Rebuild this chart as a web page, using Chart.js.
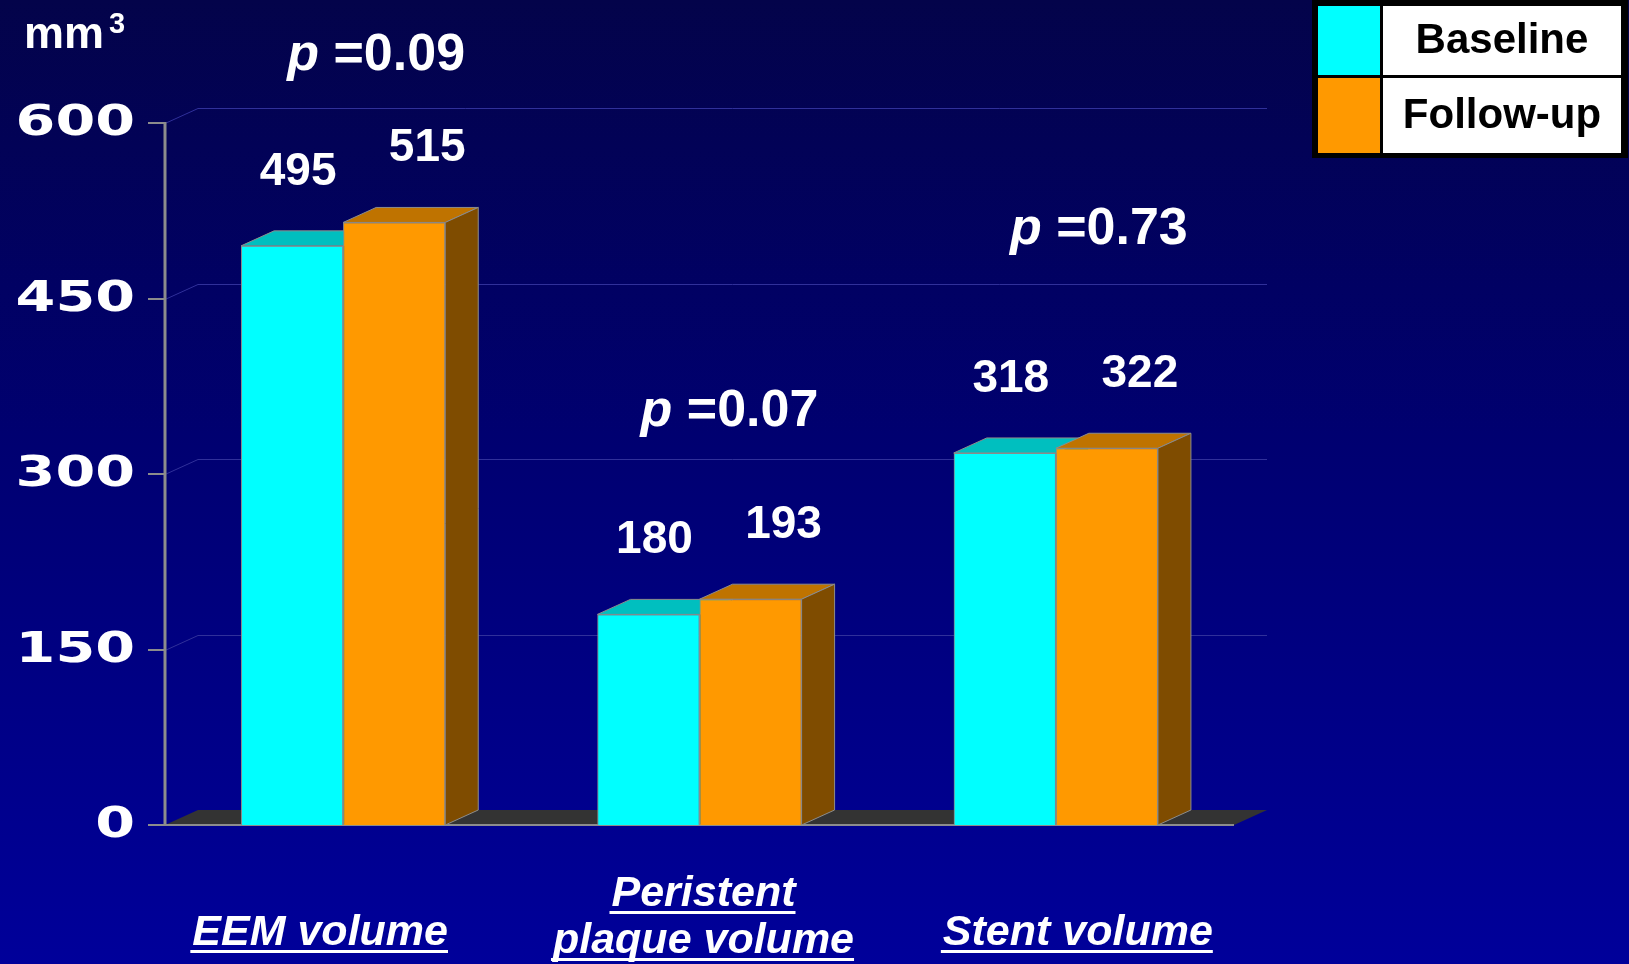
<!DOCTYPE html>
<html>
<head>
<meta charset="utf-8">
<script src="https://cdn.jsdelivr.net/npm/chart.js@4"></script>
<style>
  html, body { margin: 0; padding: 0; width: 1629px; height: 964px; overflow: hidden;
    background: linear-gradient(to bottom, #03034a 0%, #000070 45%, #00009a 100%); }
  canvas { display: block; }
</style>
</head>
<body>
<canvas id="chart" width="1629" height="964"></canvas>
<script>
// ---- data ----
const categories = [['EEM volume'], ['Peristent', 'plaque volume'], ['Stent volume']];
const seriesNames = ['Baseline', 'Follow-up'];
const baselineValues = [495, 180, 318];
const followUpValues = [515, 193, 322];
const pValues = ['0.09', '0.07', '0.73'];
const yTicks = [0, 150, 300, 450, 600];
const unitText = 'mm';
const unitPower = '3';

// ---- layout ----
const DEPTH_X = 33, DEPTH_Y = 15;          // 3D extrusion
const pLevel = [645, 341, 497];            // baseline of each p-value text, in axis units
const pShift = [33, 30, 43];               // p-value x shift per category
const labelShift = [6, 33];                // value label x shift per series
const catShift = [-23, 4, 22];             // category caption x shift
const WHITE = '#ffffff';
const EDGE = '#8c8c8c';

function poly(ctx, pts, fill, stroke) {
  ctx.beginPath();
  ctx.moveTo(pts[0][0], pts[0][1]);
  for (let i = 1; i < pts.length; i++) ctx.lineTo(pts[i][0], pts[i][1]);
  ctx.closePath();
  ctx.fillStyle = fill;
  ctx.fill();
  if (stroke) { ctx.strokeStyle = stroke; ctx.lineWidth = 1; ctx.stroke(); }
}

const depthPlugin = {
  id: 'depth3d',
  beforeDatasetsDraw(chart) {
    const { ctx, chartArea: a, scales: { y } } = chart;
    ctx.save();
    // floor
    poly(ctx, [[a.left, a.bottom], [a.right, a.bottom], [a.right + DEPTH_X, a.bottom - DEPTH_Y], [a.left + DEPTH_X, a.bottom - DEPTH_Y]], '#333333');
    // back-wall grid
    ctx.strokeStyle = '#30309a';
    ctx.lineWidth = 1;
    yTicks.forEach(v => {
      if (v === 0) return;
      const py = Math.round(y.getPixelForValue(v)) + 0.5;
      ctx.beginPath();
      ctx.moveTo(a.left, py);
      ctx.lineTo(a.left + DEPTH_X, py - DEPTH_Y);
      ctx.lineTo(a.right + DEPTH_X, py - DEPTH_Y);
      ctx.stroke();
    });
    // front floor edge and value axis
    ctx.strokeStyle = EDGE;
    ctx.lineWidth = 2;
    ctx.beginPath();
    ctx.moveTo(a.left, a.bottom);
    ctx.lineTo(a.right, a.bottom);
    ctx.stroke();
    ctx.lineWidth = 3;
    ctx.beginPath();
    ctx.moveTo(a.left, y.getPixelForValue(yTicks[yTicks.length - 1]) - 1);
    ctx.lineTo(a.left, a.bottom + 1);
    ctx.stroke();
    ctx.lineWidth = 2;
    yTicks.forEach(v => {
      const py = Math.round(y.getPixelForValue(v));
      ctx.beginPath();
      ctx.moveTo(a.left - 17, py);
      ctx.lineTo(a.left, py);
      ctx.stroke();
    });
    // tick labels (wide face)
    ctx.fillStyle = WHITE;
    ctx.font = 'bold 43px "DejaVu Sans"';
    ctx.textAlign = 'right';
    ctx.textBaseline = 'middle';
    yTicks.forEach(v => {
      const py = y.getPixelForValue(v);
      ctx.save();
      ctx.translate(a.left - 30, py + 1);
      ctx.scale(1.33, 1);
      ctx.fillText(String(v), 0, 0);
      ctx.restore();
    });
    ctx.restore();
  },
  // Solid boxes: per category, series left-to-right so the right box hides
  // the left box's side face.
  afterDatasetsDraw(chart) {
    const { ctx } = chart;
    ctx.save();
    const n = chart.data.labels.length;
    for (let i = 0; i < n; i++) {
      chart.data.datasets.forEach((ds, di) => {
        const bar = chart.getDatasetMeta(di).data[i];
        bar.draw(ctx);
        const p = bar.getProps(['x', 'y', 'base', 'width'], true);
        const l = p.x - p.width / 2, r = p.x + p.width / 2;
        poly(ctx, [[l, p.y], [r, p.y], [r + DEPTH_X, p.y - DEPTH_Y], [l + DEPTH_X, p.y - DEPTH_Y]], ds.topColor, EDGE);
        poly(ctx, [[r, p.y], [r + DEPTH_X, p.y - DEPTH_Y], [r + DEPTH_X, p.base - DEPTH_Y], [r, p.base]], ds.sideColor, EDGE);
      });
    }
    ctx.restore();
  },
  afterDraw(chart) {
    const { ctx, scales: { x, y } } = chart;
    ctx.save();
    ctx.fillStyle = WHITE;

    // value labels
    ctx.font = 'bold 46px "Liberation Sans"';
    ctx.textAlign = 'center';
    ctx.textBaseline = 'alphabetic';
    chart.data.datasets.forEach((ds, di) => {
      chart.getDatasetMeta(di).data.forEach((bar, i) => {
        ctx.fillText(String(ds.data[i]), bar.x + labelShift[di], bar.y - 61);
      });
    });

    // p-values
    pValues.forEach((pv, i) => {
      const cx = x.getPixelForValue(i) + pShift[i];
      const by = y.getPixelForValue(pLevel[i]);
      ctx.font = 'italic bold 52px "Liberation Sans"';
      const w1 = ctx.measureText('p').width;
      ctx.font = 'bold 52px "Liberation Sans"';
      const rest = ' =' + pv;
      const w2 = ctx.measureText(rest).width;
      const x0 = cx - (w1 + w2) / 2;
      ctx.textAlign = 'left';
      ctx.font = 'italic bold 52px "Liberation Sans"';
      ctx.fillText('p', x0, by);
      ctx.font = 'bold 52px "Liberation Sans"';
      ctx.fillText(rest, x0 + w1, by);
    });

    // category captions, underlined
    ctx.font = 'italic bold 43px "Liberation Sans"';
    ctx.textAlign = 'center';
    chart.data.labels.forEach((lines, i) => {
      const cx = x.getPixelForValue(i) + catShift[i];
      const baselines = lines.length === 1 ? [945] : [906, 953];
      lines.forEach((t, k) => {
        const w = ctx.measureText(t).width;
        ctx.fillText(t, cx, baselines[k]);
        ctx.fillRect(cx - w / 2 - 2, baselines[k] + 5, w + 2, 3);
      });
    });

    // unit
    ctx.textAlign = 'left';
    ctx.font = 'bold 45px "Liberation Sans"';
    ctx.fillText(unitText, 24, 48);
    const uw = ctx.measureText(unitText).width;
    ctx.font = 'bold 29px "Liberation Sans"';
    ctx.fillText(unitPower, 24 + uw + 5, 33);

    // legend
    const L = { x: 1312, y: 0, w: 316, h: 158 };
    ctx.fillStyle = '#000000';
    ctx.fillRect(L.x, L.y, L.w, L.h);
    const rows = [[6, 69], [78, 75]];
    chart.data.datasets.forEach((ds, di) => {
      const [ry, rh] = rows[di];
      ctx.fillStyle = ds.backgroundColor;
      ctx.fillRect(1318, ry, 62, rh);
      ctx.fillStyle = WHITE;
      ctx.fillRect(1383, ry, 238, rh);
      ctx.fillStyle = '#000000';
      ctx.font = 'bold 42px "Liberation Sans"';
      ctx.textAlign = 'center';
      ctx.textBaseline = 'middle';
      ctx.fillText(ds.label, 1502, ry + rh / 2 + 1);
    });
    ctx.restore();
  }
};

new Chart(document.getElementById('chart'), {
  type: 'bar',
  data: {
    labels: categories,
    datasets: [
      { label: seriesNames[0], data: baselineValues, backgroundColor: '#00ffff',
        topColor: '#00bfbf', sideColor: '#007f7f' },
      { label: seriesNames[1], data: followUpValues, backgroundColor: '#ff9900',
        topColor: '#bf7300', sideColor: '#7f4c00' }
    ]
  },
  options: {
    responsive: false,
    animation: false,
    devicePixelRatio: 1,
    layout: { padding: { left: 165, right: 395, top: 123, bottom: 139 } },
    datasets: { bar: { barPercentage: 1, categoryPercentage: 0.573, borderColor: EDGE, borderWidth: 1 } },
    plugins: { legend: { display: false }, tooltip: { enabled: false } },
    scales: {
      x: { display: false },
      y: { display: false, min: 0, max: 600 }
    }
  },
  plugins: [depthPlugin]
});
</script>
</body>
</html>
